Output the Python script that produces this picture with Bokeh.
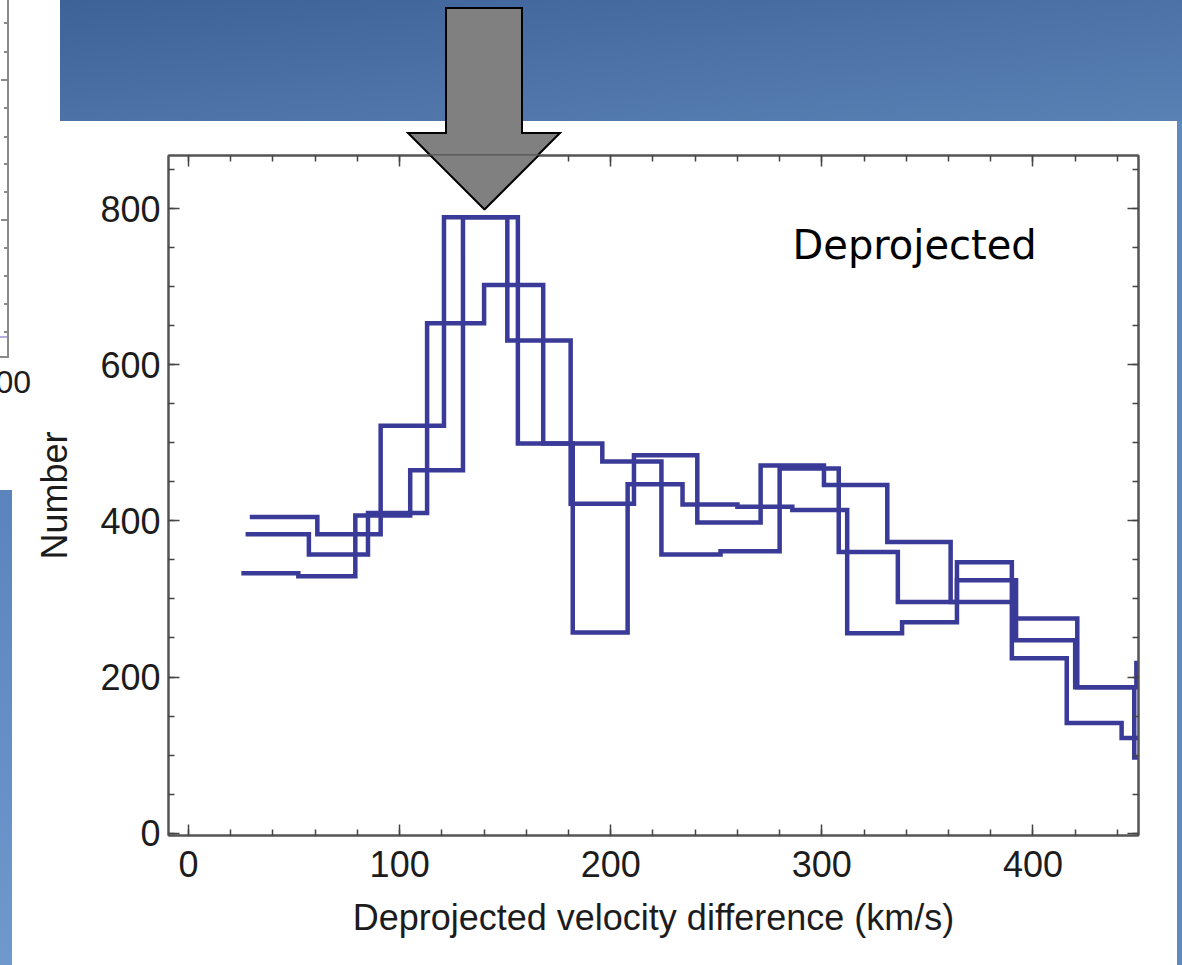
import math
from urllib.parse import quote
from bokeh.plotting import figure
from bokeh.models import (Range1d, LinearAxis, FixedTicker, PolyAnnotation, Label)
from bokeh.embed import file_html
from bokeh.resources import INLINE

# ---------------- data ----------------
# three step histograms of deprojected velocity difference
s1_edges = [29, 61, 91, 121, 151, 181, 211, 241, 271, 301, 331, 361, 391, 421, 449, 480]
s1_counts = [405, 383, 522, 789, 631, 422, 484, 398, 471, 446, 373, 296, 275, 187, 218]

s2_edges = [27, 57, 85, 113, 140, 168, 196, 224, 252, 280, 308, 336, 364, 392, 420, 448, 476]
s2_counts = [383, 357, 410, 653, 702, 499, 476, 357, 361, 467, 360, 296, 324, 247, 187, 97]

s3_edges = [25, 52, 79, 105, 130, 156, 182, 208, 234, 260, 286, 312, 338, 364, 390, 416, 442, 468]
s3_counts = [333, 329, 407, 465, 789, 499, 257, 447, 421, 418, 414, 256, 270, 347, 224, 141, 122]

x_major = [0, 100, 200, 300, 400]
x_minor = list(range(0, 460, 20))
y_major = [0, 200, 400, 600, 800]
y_minor = list(range(0, 900, 50))

x_title = "Deprojected velocity difference (km/s)"
y_title = "Number"
panel_note = "Deprojected"
side_fragment = "00"

# ---------------- figure ----------------
W, H = 1182, 965
FL, FR, FT, FB = 168, 1138, 155, 835
LINE = "#3a3a98"
TXT = "#1c1c1c"
AX = "#555555"

# slide background (blue title band, side strips, neighbouring chart fragment, arrow)
arrow_pts = "446,8 522,8 522,133 560,133 484,209 408,133 446,133"
left_ticks = [(23, 4), (52, 4), (80, 7), (108, 4), (137, 4), (164, 4),
              (192, 4), (220, 7), (248, 4), (276, 4), (304, 4), (332, 4)]
tick_rects = "".join(
    f"<rect x='{8 - ln}' y='{yy - 1}' width='{ln}' height='2' fill='#8a8a8a'/>"
    for yy, ln in left_ticks)
svg = (
    f"<svg xmlns='http://www.w3.org/2000/svg' width='{W}' height='{H}'>"
    "<defs>"
    "<linearGradient id='band' x1='0' y1='0' x2='1' y2='1'>"
    "<stop offset='0' stop-color='#3d6298'/><stop offset='1' stop-color='#5a81b4'/>"
    "</linearGradient>"
    "<linearGradient id='lstrip' x1='0' y1='0' x2='0' y2='1'>"
    "<stop offset='0' stop-color='#5a84bb'/><stop offset='1' stop-color='#6f99cd'/>"
    "</linearGradient>"
    "</defs>"
    f"<rect x='0' y='0' width='{W}' height='{H}' fill='white'/>"
    f"<rect x='60' y='0' width='{W - 60}' height='121' fill='url(#band)'/>"
    f"<rect x='0' y='490' width='12' height='{H - 490}' fill='url(#lstrip)'/>"
    f"<rect x='1177' y='121' width='{W - 1177}' height='{H - 121}' fill='#5f89bf'/>"
    "<rect x='7' y='0' width='2' height='358' fill='#8a8a8a'/>"
    "<rect x='0' y='356' width='9' height='2' fill='#8a8a8a'/>"
    "<rect x='0' y='336' width='7' height='2' fill='#b4acdf'/>"
    + tick_rects +
    f"<text x='31' y='393' text-anchor='end' font-family='Liberation Sans, Arial, sans-serif' "
    f"font-size='32' fill='{TXT}'>{side_fragment}</text>"
    f"<polygon points='{arrow_pts}' fill='#808080' stroke='black' stroke-width='2' "
    "stroke-linejoin='miter'/>"
    "</svg>"
)
bg = f'url("data:image/svg+xml,{quote(svg)}") 0 0 / {W}px {H}px no-repeat, white'

p = figure(width=W, height=H, output_backend="svg", toolbar_location=None,
           x_range=Range1d(-9.5, 450), y_range=Range1d(-3, 868),
           min_border_left=FL, min_border_right=W - FR,
           min_border_top=FT, min_border_bottom=H - FB,
           background_fill_color="white", border_fill_alpha=0.0,
           styles={"background": bg})
p.grid.visible = False
p.outline_line_color = AX
p.outline_line_width = 2

xt = FixedTicker(ticks=x_major, minor_ticks=x_minor)
yt = FixedTicker(ticks=y_major, minor_ticks=y_minor)

def style_axis(ax, labels=True, standoff=8):
    ax.axis_line_color = AX
    ax.axis_line_width = 2
    ax.major_tick_in = 11
    ax.major_tick_out = 0
    ax.minor_tick_in = 6
    ax.minor_tick_out = 0
    ax.major_tick_line_color = "#444444"
    ax.minor_tick_line_color = "#444444"
    ax.major_tick_line_width = 1.5
    ax.minor_tick_line_width = 1.5
    if labels:
        ax.major_label_text_font = "Liberation Sans"
        ax.major_label_text_font_size = "36px"
        ax.major_label_text_color = TXT
        ax.major_label_standoff = standoff
    else:
        ax.major_label_text_color = None
        ax.major_label_text_font_size = "1px"
        ax.major_label_standoff = 0

p.xaxis.ticker = xt
p.yaxis.ticker = yt
style_axis(p.xaxis[0], standoff=15)
style_axis(p.yaxis[0], standoff=8)

p.xaxis.axis_label = x_title
p.xaxis.axis_label_text_font = "Liberation Sans"
p.xaxis.axis_label_text_font_size = "36px"
p.xaxis.axis_label_text_font_style = "normal"
p.xaxis.axis_label_text_color = TXT
p.xaxis.axis_label_standoff = 17

p.yaxis.axis_label = y_title
p.yaxis.axis_label_text_font = "Liberation Sans"
p.yaxis.axis_label_text_font_size = "36px"
p.yaxis.axis_label_text_font_style = "normal"
p.yaxis.axis_label_text_color = TXT
p.yaxis.axis_label_standoff = 22

top_ax = LinearAxis(ticker=xt)
right_ax = LinearAxis(ticker=yt)
style_axis(top_ax, labels=False)
style_axis(right_ax, labels=False)
p.add_layout(top_ax, "above")
p.add_layout(right_ax, "right")

# ---------------- histograms ----------------
for edges, counts in [(s1_edges, s1_counts), (s2_edges, s2_counts), (s3_edges, s3_counts)]:
    p.step(x=edges, y=counts + [counts[-1]], mode="after",
           line_color=LINE, line_width=4.5, line_join="miter")

# panel note
p.add_layout(Label(x=792, y=244, x_units="canvas", y_units="canvas", text=panel_note,
                   text_align="left", text_baseline="alphabetic",
                   text_font="DejaVu Sans", text_font_size="40px",
                   text_color="black"))

# part of the arrow that lies over the plot frame (drawn above the frame line)
p.add_layout(PolyAnnotation(xs=[446, 522, 522, 560, 484, 408, 446],
                            ys=[8, 8, 133, 133, 209, 133, 133],
                            xs_units="canvas", ys_units="canvas",
                            fill_color="#808080", fill_alpha=1.0,
                            line_color="black", line_width=2, line_alpha=1.0))

open("out.html", "w").write(file_html(p, INLINE))
